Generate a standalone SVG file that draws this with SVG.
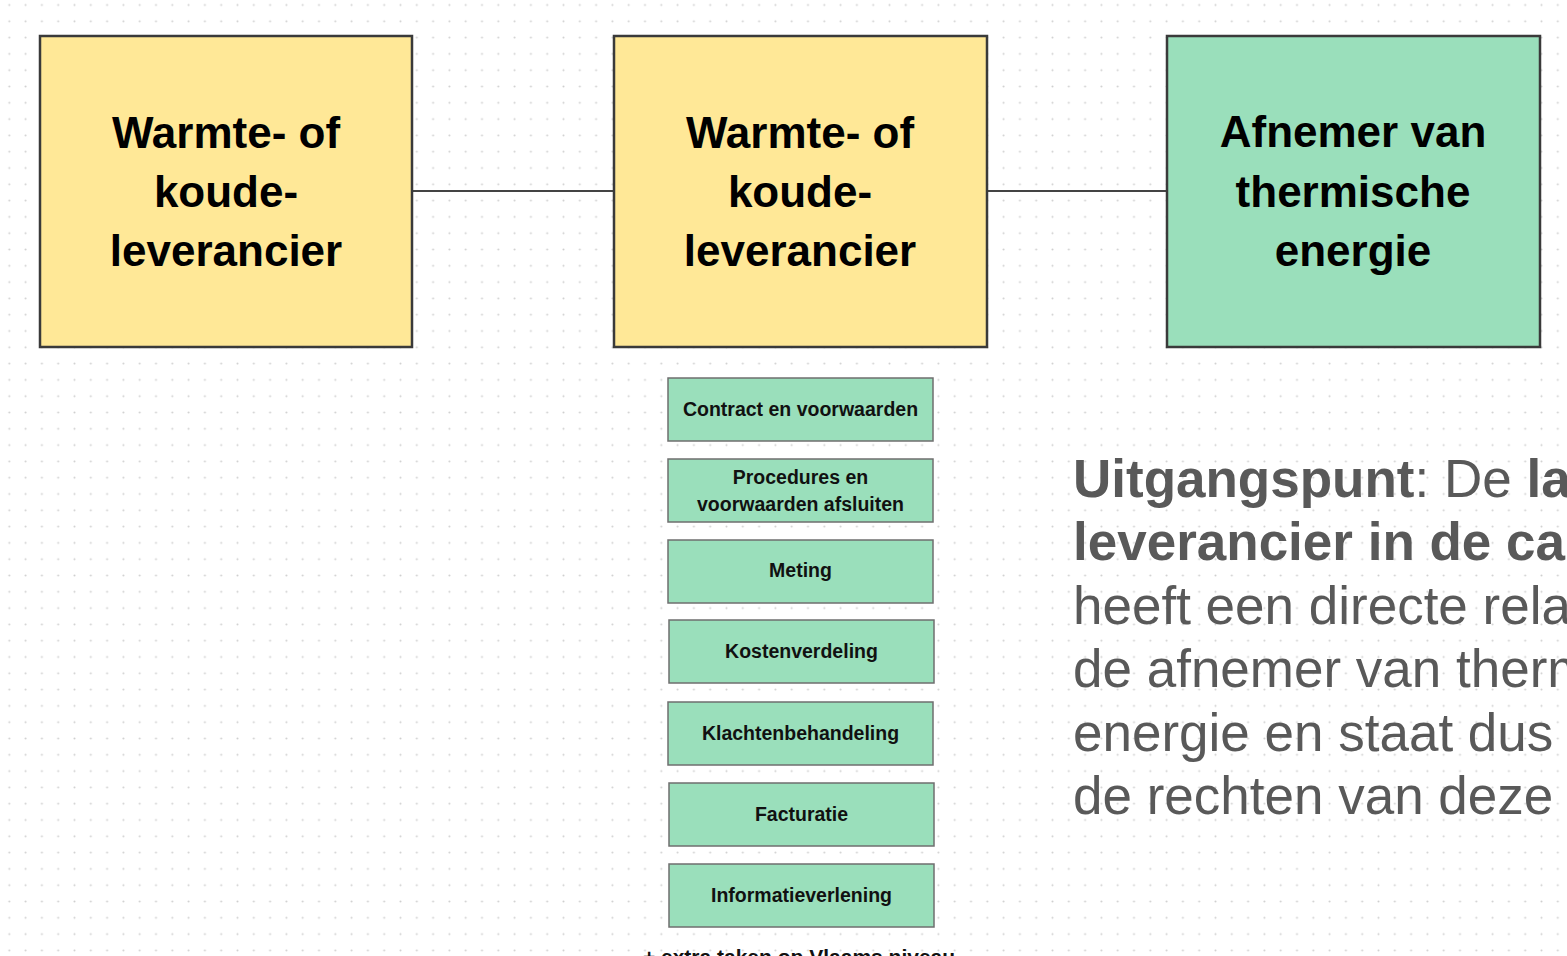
<svg xmlns="http://www.w3.org/2000/svg" width="1567" height="956" viewBox="0 0 1567 956">
  <style>
    .big { fill: #FFE897; stroke: #3a3a3a; stroke-width: 2.5; }
    .bigg { fill: #9ADFBB; stroke: #3a3a3a; stroke-width: 2.5; }
    .small { fill: #9ADFBB; stroke: #6f6f6f; stroke-width: 1.5; }
    .bt { font-family: "Liberation Sans", Arial, sans-serif; font-weight: bold; font-size: 44px; fill: #000; text-anchor: middle; }
    .st { font-family: "Liberation Sans", Arial, sans-serif; font-weight: bold; font-size: 19.5px; fill: #111; text-anchor: middle; }
    .rt { font-family: "Liberation Sans", Arial, sans-serif; font-size: 53px; fill: #595959; }
    .b { font-weight: bold; }
    .conn { stroke: #444; stroke-width: 2; fill: none; }
  </style>
  <defs>
    <pattern id="dots" x="1.15" y="-3.15" width="16.3" height="16.3" patternUnits="userSpaceOnUse">
      <circle cx="8.15" cy="8.15" r="1" fill="#cfcfcf"/>
    </pattern>
  </defs>
  <rect x="0" y="0" width="1567" height="956" fill="#ffffff"/>
  <rect x="0" y="0" width="1567" height="956" fill="url(#dots)"/>

  <g id="connectors">
    <line class="conn" x1="412" y1="191" x2="614" y2="191"/>
    <line class="conn" x1="987" y1="191" x2="1167" y2="191"/>
  </g>

  <g id="node-leverancier1">
    <rect class="big" x="40" y="36" width="372" height="311"/>
    <text class="bt" x="226" y="148">Warmte- of</text>
    <text class="bt" x="226" y="207">koude-</text>
    <text class="bt" x="226" y="266">leverancier</text>
  </g>
  <g id="node-leverancier2">
    <rect class="big" x="614" y="36" width="373" height="311"/>
    <text class="bt" x="800" y="148">Warmte- of</text>
    <text class="bt" x="800" y="207">koude-</text>
    <text class="bt" x="800" y="266">leverancier</text>
  </g>
  <g id="node-afnemer">
    <rect class="bigg" x="1167" y="36" width="373" height="311"/>
    <text class="bt" x="1353" y="147">Afnemer van</text>
    <text class="bt" x="1353" y="207">thermische</text>
    <text class="bt" x="1353" y="266">energie</text>
  </g>

  <g id="task-contract">
    <rect class="small" x="668" y="378" width="265" height="63"/>
    <text class="st" x="800.5" y="416">Contract en voorwaarden</text>
  </g>
  <g id="task-procedures">
    <rect class="small" x="668" y="459" width="265" height="63"/>
    <text class="st" x="800.5" y="484">Procedures en</text>
    <text class="st" x="800.5" y="511">voorwaarden afsluiten</text>
  </g>
  <g id="task-meting">
    <rect class="small" x="668" y="540" width="265" height="63"/>
    <text class="st" x="800.5" y="577">Meting</text>
  </g>
  <g id="task-kostenverdeling">
    <rect class="small" x="669" y="620" width="265" height="63"/>
    <text class="st" x="801.5" y="658">Kostenverdeling</text>
  </g>
  <g id="task-klachten">
    <rect class="small" x="668" y="702" width="265" height="63"/>
    <text class="st" x="800.5" y="740">Klachtenbehandeling</text>
  </g>
  <g id="task-facturatie">
    <rect class="small" x="669" y="783" width="265" height="63"/>
    <text class="st" x="801.5" y="821">Facturatie</text>
  </g>
  <g id="task-informatie">
    <rect class="small" x="669" y="864" width="265" height="63"/>
    <text class="st" x="801.5" y="902">Informatieverlening</text>
  </g>

  <text class="st" x="799" y="964" style="font-size:21px">+ extra taken op Vlaams niveau</text>

  <g id="uitgangspunt">
    <text class="rt" x="1073" y="497"><tspan class="b">Uitgangspunt</tspan>: De <tspan class="b">la</tspan></text>
    <text class="rt b" x="1073" y="560">leverancier in de ca</text>
    <text class="rt" x="1073" y="624">heeft een directe rela</text>
    <text class="rt" x="1073" y="687">de afnemer van therm</text>
    <text class="rt" x="1073" y="751">energie en staat dus</text>
    <text class="rt" x="1073" y="814">de rechten van deze</text>
  </g>
</svg>
